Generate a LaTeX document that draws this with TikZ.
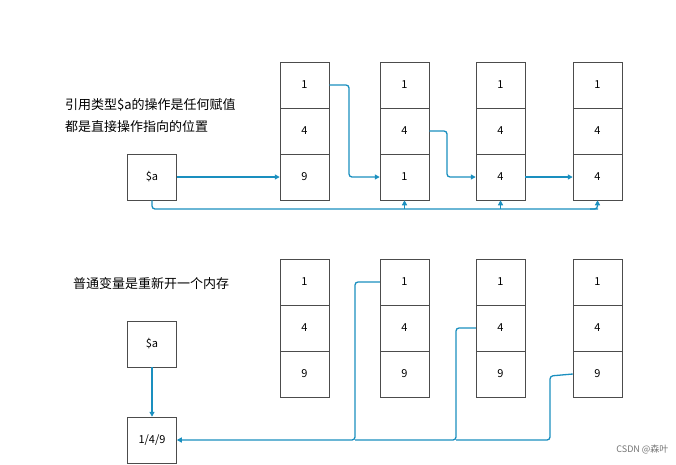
\documentclass[tikz,border=0pt]{standalone}
\usepackage{fontspec}
\setmainfont{Noto Sans CJK SC}
\usetikzlibrary{arrows.meta}
\definecolor{lk}{HTML}{1A8FBF}
\begin{document}
\begin{tikzpicture}[x=1pt,y=-1pt,
  cell/.style={draw=black!70,line width=0.5pt,minimum width=49pt,minimum height=46pt,inner sep=0pt,font=\fontsize{11}{13}\selectfont},
  lnk/.style={draw=lk,line width=1.3pt,-{Triangle[length=5pt,width=5pt]},rounded corners=3pt},
  ln/.style={draw=lk,line width=1.3pt,rounded corners=3pt},
  lab/.style={anchor=west,font=\fontsize{13}{15}\selectfont,inner sep=0pt}]
\useasboundingbox (0,0) rectangle (676,464);
\foreach \c/\x in {a/304.5,b/404.5,c/500.5,d/597.5}{
  \node[cell] (\c1) at (\x,85) {1};
  \node[cell] (\c2) at (\x,131) {4};
  \node[cell] (\c4) at (\x,282) {1};
  \node[cell] (\c5) at (\x,328) {4};
  \node[cell] (\c6) at (\x,374) {9};
}
\node[cell] (a3) at (304.5,177) {9};
\node[cell] (b3) at (404.5,177) {1};
\node[cell] (c3) at (500.5,177) {4};
\node[cell] (d3) at (597.5,177) {4};
\node[cell] (A) at (152,177) {\$a};
\node[cell] (B) at (152,344) {\$a};
\node[cell] (C) at (152,440) {1/4/9};
\node[lab] (t1) at (65,105) {引用类型\$a的操作是任何赋值};
\node[lab] (t2) at (65,127) {都是直接操作指向的位置};
\node[lab] (t3) at (73,284) {普通变量是重新开一个内存};
\node[anchor=east,font=\fontsize{9}{11}\selectfont,text=black!55] (w) at (672,449) {CSDN @森叶};
\draw[lnk] (A.east) -- (a3.west);
\draw[lnk] (a1.east) -- (349,85) -- (349,177) -- (b3.west);
\draw[lnk] (b2.east) -- (447,131) -- (447,177) -- (c3.west);
\draw[lnk] (c3.east) -- (d3.west);
\draw[ln] (A.south) -- (152,209) -- (598,209);
\draw[lnk] (404.5,209) -- (b3.south);
\draw[lnk] (500.5,209) -- (c3.south);
\draw[lnk] (590,209) -- (597.5,209) -- (d3.south);
\draw[lnk] (B.south) -- (C.north);
\draw[lnk] (b4.west) -- (355,282) -- (355,440) -- (C.east);
\draw[ln] (c5.west) -- (456,328) -- (456,440) -- (355,440);
\draw[ln] (d6.west) -- (550,376) -- (550,440) -- (456,440);
\end{tikzpicture}
\end{document}
